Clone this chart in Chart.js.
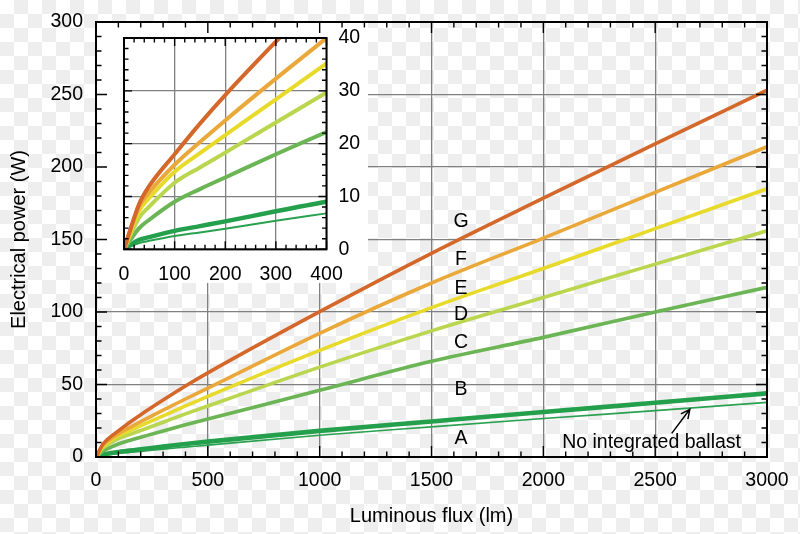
<!DOCTYPE html>
<html>
<head>
<meta charset="utf-8">
<script src="https://cdn.jsdelivr.net/npm/chart.js@4.4.1/dist/chart.umd.min.js"></script>
<style>
  html, body { margin: 0; padding: 0; }
  body {
    width: 800px; height: 534px; overflow: hidden; position: relative;
    background-color: #fff;
    background-image: repeating-conic-gradient(#eeeeee 0% 25%, #ffffff 0% 50%);
    background-size: 28px 28px;
  }
  #main { position: absolute; left: 0; top: 0; }
  #inset { position: absolute; left: 96px; top: 22px; }
</style>
</head>
<body>
<canvas id="main" width="800" height="534"></canvas>
<canvas id="inset" width="276" height="268"></canvas>
<script>
// luminous flux (lm) and electrical power (W) per curve
const flux    = [0, 30,  50,   100,  150,  200,  300,  400,  500,  1000,  1500,  2000,  2500,  3000];
const powerG  = [0, 8.6, 12.0, 18.0, 23.8, 29.2, 39.3, 49.0, 58.0, 100.2, 140.5, 178.5, 216,   253];
const powerF  = [0, 8.1, 10.8, 16.0, 20.3, 24.4, 32.3, 40.0, 47.5, 85.3,  120,   151,   182.5, 214];
const powerE  = [0, 7.3, 9.7,  14.7, 18.2, 21.6, 28.4, 35.2, 41.8, 73.5,  103,   130,   157.5, 185];
const powerD  = [0, 6.0, 8.1,  12.6, 15.5, 18.3, 24.0, 29.7, 35.2, 62,    87,    110,   133,   156];
const powerC  = [0, 4.0, 5.6,  9.0,  11.4, 13.6, 18.0, 22.2, 26.2, 46,    66,    82.5,  100,   117];
const powerB  = [0, 1.8, 2.3,  3.5,  4.4,  5.3,  7.2,  9.0,  10.6, 18,    24.5,  31,    37.4,  43.9];
const powerA  = [0, 1.2, 1.6,  2.5,  3.2,  3.9,  5.4,  6.8,  8.2,  15,    20.8,  26.5,  32.0,  37.7];

const curveNames  = ['G', 'F', 'E', 'D', 'C', 'B', 'A'];
const curveValues = [powerG, powerF, powerE, powerD, powerC, powerB, powerA];
const curveColors = ['#d4672a', '#eaa83a', '#e8da2a', '#bad64e', '#6bb554', '#24a04c', '#2aa150'];
const curveWidths = [3.6, 3.6, 3.6, 3.6, 3.6, 4.6, 1.6];
const insetWidths = [4, 4, 4, 4, 4, 4.4, 2];

// curve letters next to the lines (flux, power)
const letterFlux  = 1632;
const letterPower = [162, 136.3, 116.3, 98.4, 78.8, 46.7, 12.9];

const FONT = "'Liberation Sans', Arial, sans-serif";

function makeDatasets(widths) {
  return curveNames.map((name, i) => ({
    label: name,
    data: flux.map((f, k) => ({ x: f, y: curveValues[i][k] })),
    borderColor: curveColors[i],
    borderWidth: widths[i],
    pointRadius: 0,
    fill: false,
    cubicInterpolationMode: 'monotone'
  }));
}

// inward tick marks on all four sides plus a black frame
function framePlugin(o) {
  return {
    id: 'frame',
    beforeDatasetsDraw(chart) {
      if (!o.blank) return;
      const ctx = chart.ctx, a = chart.chartArea;
      ctx.save();
      ctx.fillStyle = '#fff';
      ctx.fillRect(a.left, a.top, o.blank[0] - a.left, o.blank[1] - a.top);
      ctx.restore();
    },
    afterDraw(chart) {
      const ctx = chart.ctx, a = chart.chartArea;
      const x = chart.scales.x, y = chart.scales.y;
      ctx.save();
      ctx.strokeStyle = '#000';
      ctx.lineWidth = 1.4;
      ctx.beginPath();
      for (let v = x.min; v <= x.max + 1e-6; v += o.xMinor) {
        const px = x.getPixelForValue(v);
        const len = Math.abs(v % o.xMajor) < 1e-6 ? o.major : o.minor;
        ctx.moveTo(px, a.bottom); ctx.lineTo(px, a.bottom - len);
        ctx.moveTo(px, a.top); ctx.lineTo(px, a.top + len);
      }
      for (let v = y.min; v <= y.max + 1e-6; v += o.yMinor) {
        const py = y.getPixelForValue(v);
        const len = Math.abs(v % o.yMajor) < 1e-6 ? o.major : o.minor;
        ctx.moveTo(a.left, py); ctx.lineTo(a.left + len, py);
        ctx.moveTo(a.right, py); ctx.lineTo(a.right - len, py);
      }
      ctx.stroke();
      ctx.lineWidth = 2;
      ctx.strokeRect(a.left, a.top, a.right - a.left, a.bottom - a.top);
      ctx.restore();
    }
  };
}

const labelsPlugin = {
  id: 'curveLabels',
  afterDatasetsDraw(chart) {
    const ctx = chart.ctx, x = chart.scales.x, y = chart.scales.y;
    ctx.save();
    ctx.fillStyle = '#000';
    ctx.font = '19.5px ' + FONT;
    ctx.textAlign = 'center';
    ctx.textBaseline = 'middle';
    curveNames.forEach((n, i) => {
      ctx.fillText(n, x.getPixelForValue(letterFlux), y.getPixelForValue(letterPower[i]));
    });
    ctx.fillText('No integrated ballast', x.getPixelForValue(2484), y.getPixelForValue(9.9));
    // arrow pointing at the thin line
    const x0 = x.getPixelForValue(2574), y0 = y.getPixelForValue(16.3);
    const x1 = x.getPixelForValue(2655), y1 = y.getPixelForValue(32.9);
    const ang = Math.atan2(y1 - y0, x1 - x0);
    ctx.strokeStyle = '#000';
    ctx.lineWidth = 1.5;
    ctx.beginPath();
    ctx.moveTo(x0, y0); ctx.lineTo(x1, y1);
    ctx.moveTo(x1 - 10 * Math.cos(ang - 0.45), y1 - 10 * Math.sin(ang - 0.45));
    ctx.lineTo(x1, y1);
    ctx.lineTo(x1 - 10 * Math.cos(ang + 0.45), y1 - 10 * Math.sin(ang + 0.45));
    ctx.stroke();
    ctx.restore();
  }
};

function noPad(s) { s.paddingLeft = 0; s.paddingRight = 0; s.paddingTop = 0; s.paddingBottom = 0; }

const tickFont = { family: FONT, size: 19.5 };
const gridStyle = { color: '#808080', lineWidth: 1.3, drawTicks: false };
const plain = v => String(v);

new Chart(document.getElementById('main'), {
  type: 'line',
  data: { datasets: makeDatasets(curveWidths) },
  options: {
    responsive: false,
    animation: false,
    layout: { padding: { left: 0, top: 22, right: 33, bottom: 0 } },
    plugins: { legend: { display: false }, tooltip: { enabled: false } },
    scales: {
      x: {
        type: 'linear', min: 0, max: 3000,
        ticks: { stepSize: 500, color: '#000', font: tickFont, padding: 12, maxRotation: 0, autoSkip: false, callback: plain },
        grid: gridStyle,
        border: { display: false },
        title: { display: true, text: 'Luminous flux (lm)', color: '#000', font: { family: FONT, size: 20 }, padding: { top: 0, bottom: 6 } },
        afterFit(s) { s.height = 77; noPad(s); }
      },
      y: {
        type: 'linear', min: 0, max: 300,
        ticks: { stepSize: 50, color: '#000', font: tickFont, padding: 13, callback: plain },
        grid: gridStyle,
        border: { display: false },
        title: { display: true, text: 'Electrical power (W)', color: '#000', font: { family: FONT, size: 20 }, padding: { top: 7, bottom: 0 } },
        afterFit(s) { s.width = 96; noPad(s); }
      }
    }
  },
  plugins: [framePlugin({ xMinor: 100, xMajor: 500, yMinor: 10, yMajor: 50, minor: 5.5, major: 11, blank: [368, 283] }), labelsPlugin]
});

new Chart(document.getElementById('inset'), {
  type: 'line',
  data: { datasets: makeDatasets(insetWidths) },
  options: {
    responsive: false,
    animation: false,
    layout: { padding: { left: 28, top: 16, right: 0, bottom: 0 } },
    plugins: { legend: { display: false }, tooltip: { enabled: false } },
    scales: {
      x: {
        type: 'linear', min: 0, max: 400,
        ticks: { stepSize: 100, color: '#000', font: tickFont, padding: 14, maxRotation: 0, autoSkip: false, callback: plain },
        grid: gridStyle,
        border: { display: false },
        afterFit(s) { s.height = 40.7; noPad(s); }
      },
      y: {
        type: 'linear', position: 'right', min: 0, max: 40,
        ticks: { stepSize: 10, color: '#000', font: tickFont, padding: 12, callback: plain },
        grid: gridStyle,
        border: { display: false },
        afterFit(s) { s.width = 45.5; noPad(s); }
      }
    }
  },
  plugins: [framePlugin({ xMinor: 20, xMajor: 100, yMinor: 2, yMajor: 10, minor: 4.5, major: 8 })]
});
</script>
</body>
</html>
